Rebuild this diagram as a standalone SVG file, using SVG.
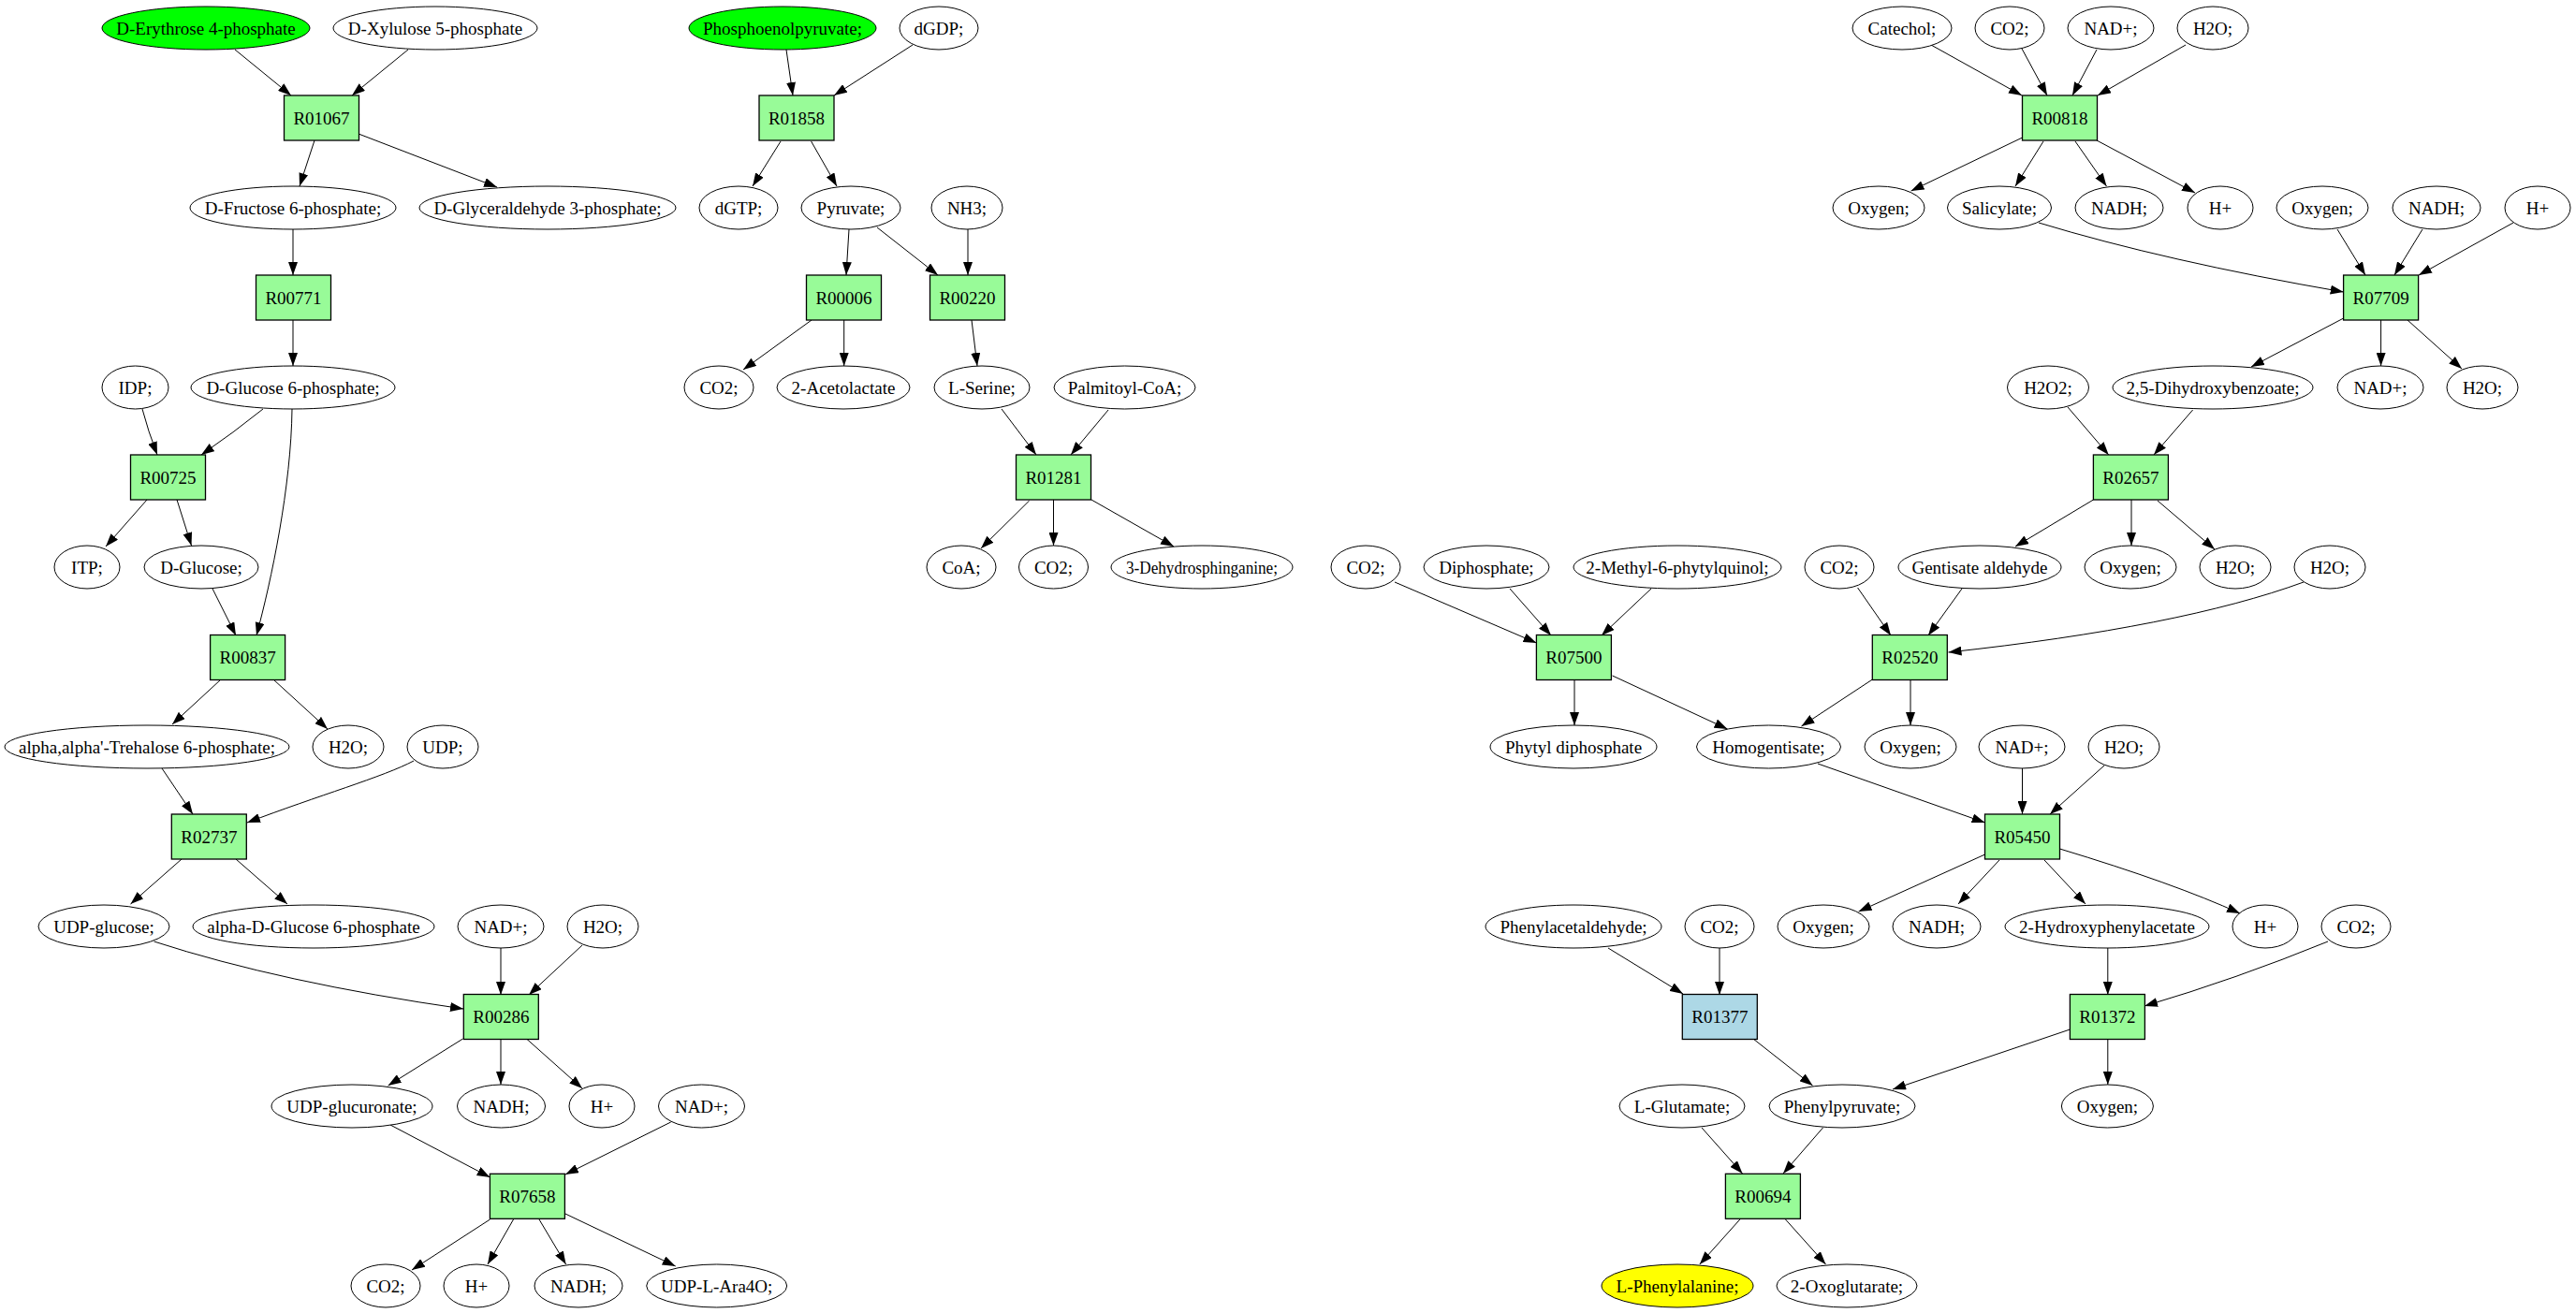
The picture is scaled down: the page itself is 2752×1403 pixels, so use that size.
<svg xmlns="http://www.w3.org/2000/svg" width="2752" height="1403" viewBox="0 0 2752 1403">
<style>
.e{fill:#fff;stroke:#000;stroke-width:1}
.g{fill:#00ff00}
.y{fill:#ffff00}
.r{fill:#98fb98;stroke:#000;stroke-width:1.3}
.b{fill:#add8e6}
text{font-family:"Liberation Serif","Times New Roman",serif;font-size:19px;text-anchor:middle;fill:#000}
#edges path{fill:none;stroke:#000;stroke-width:1;marker-end:url(#a)}
</style>
<defs>
<marker id="a" markerWidth="14" markerHeight="10" refX="14" refY="5" orient="auto" markerUnits="userSpaceOnUse"><path d="M0,0 L14,5 L0,10 z" fill="#000"/></marker>
</defs>
<rect width="2752" height="1403" fill="#fff"/>
<g id="edges">
<path d="M251,53 L311,102"/>
<path d="M436,53 L376,102"/>
<path d="M336,150 L320,199"/>
<path d="M383,143 L531,200"/>
<path d="M313,245 L313,294"/>
<path d="M313,342 L313,391"/>
<path d="M152,437 Q158,460 168,486"/>
<path d="M281,437 Q250,462 215,486"/>
<path d="M312,437 C311,520 290,620 274,679"/>
<path d="M157,534 L113,584"/>
<path d="M189,534 L204.5,583"/>
<path d="M227,629 L252,679"/>
<path d="M236,726 L184,774"/>
<path d="M292,726 L350,779"/>
<path d="M173,821 L206,870"/>
<path d="M442,813 C410,830 340,850 264,879"/>
<path d="M194,918 L139.5,966"/>
<path d="M252,918 L307,966"/>
<path d="M164.5,1006 Q300,1050 495,1078"/>
<path d="M535,1013 L535,1063"/>
<path d="M622,1010 L565,1063"/>
<path d="M494.5,1110 L414.6,1160"/>
<path d="M535,1110 L535,1159"/>
<path d="M562.5,1110 L622,1163"/>
<path d="M417,1202 L523.5,1258"/>
<path d="M716.7,1199 L604,1255"/>
<path d="M523.5,1303 L440,1357"/>
<path d="M548.5,1303 L521,1351"/>
<path d="M576,1303 L604.6,1351"/>
<path d="M604,1297 L721.7,1353"/>
<path d="M840,53 L847,102"/>
<path d="M975,48 L891,102"/>
<path d="M834,151 L804,199"/>
<path d="M866.6,151 L894,199"/>
<path d="M907,245 L904,294"/>
<path d="M937,243 L1002,294"/>
<path d="M1034,245 L1034,294"/>
<path d="M867,342 L794,395"/>
<path d="M901.7,342 L901.7,391"/>
<path d="M1038,342 L1044,391"/>
<path d="M1070,437 L1107,486"/>
<path d="M1184,438 L1144,486"/>
<path d="M1099.6,535 L1048,586"/>
<path d="M1125.5,534 L1125.5,583"/>
<path d="M1166,534 L1254,584"/>
<path d="M2063,48 L2160,102"/>
<path d="M2160,52 L2187,102"/>
<path d="M2240,53 L2214,102"/>
<path d="M2335,48 L2241,102"/>
<path d="M2160.5,147 L2041.6,204"/>
<path d="M2183,151 L2153,199"/>
<path d="M2217,151 L2250.5,199"/>
<path d="M2240,150 L2345,206"/>
<path d="M2178,238 Q2313,279 2503.7,312"/>
<path d="M2497,245 L2527,294"/>
<path d="M2588,245 L2558,294"/>
<path d="M2685,238 L2584,294"/>
<path d="M2503.7,340 L2405,392"/>
<path d="M2543.6,342 L2543.6,391"/>
<path d="M2572,342 L2630,394"/>
<path d="M2209,435 L2252.7,486"/>
<path d="M2342.6,438 L2301,486"/>
<path d="M2236.4,534 L2153,584"/>
<path d="M2277,534 L2277,583"/>
<path d="M2305,535 L2366,587"/>
<path d="M1490,622 L1641.5,687"/>
<path d="M1613,629 L1657,679"/>
<path d="M1764,629 L1711,679"/>
<path d="M1984.6,628 L2020,679"/>
<path d="M2096,629 L2060,679"/>
<path d="M2461,622 Q2330,670 2081.5,697"/>
<path d="M1682,726 L1682,775"/>
<path d="M1722.6,722 L1845.5,779"/>
<path d="M2000.4,726 L1924.5,776"/>
<path d="M2041,726 L2041,775"/>
<path d="M1942,816 L2120.6,879"/>
<path d="M2160.5,821 L2160.5,870"/>
<path d="M2248,818 L2190,870"/>
<path d="M2120.6,913 L1985.6,974"/>
<path d="M2136,919 L2092,966"/>
<path d="M2184,919 L2228,966"/>
<path d="M2200.5,907 Q2323,944 2393,976"/>
<path d="M1718,1013 L1798,1062"/>
<path d="M1837,1013 L1837,1063"/>
<path d="M1873,1110 L1936.5,1160"/>
<path d="M2211.4,1100 L2022,1164"/>
<path d="M2251.8,1013 L2251.8,1063"/>
<path d="M2487,1006 Q2389,1046 2291,1075"/>
<path d="M2251.8,1110 L2251.8,1159"/>
<path d="M1818,1205 L1861.5,1254"/>
<path d="M1947.5,1205 L1905,1254"/>
<path d="M1859.7,1302 L1815.8,1351"/>
<path d="M1906.6,1302 L1950.5,1351"/>
</g>
<g id="R01067"><rect class="r" x="303.5" y="102" width="80" height="48"/><text x="343.5" y="132.5">R01067</text></g>
<g id="R00771"><rect class="r" x="273.5" y="294" width="80" height="48"/><text x="313.5" y="324.5">R00771</text></g>
<g id="R00725"><rect class="r" x="139.5" y="486" width="80" height="48"/><text x="179.5" y="516.5">R00725</text></g>
<g id="R00837"><rect class="r" x="224.6" y="678.5" width="80" height="48"/><text x="264.6" y="709">R00837</text></g>
<g id="R02737"><rect class="r" x="183.3" y="870" width="80" height="48"/><text x="223.3" y="900.5">R02737</text></g>
<g id="R00286"><rect class="r" x="495.3" y="1062.5" width="80" height="48"/><text x="535.3" y="1093">R00286</text></g>
<g id="R07658"><rect class="r" x="523.4" y="1254.3" width="80" height="48"/><text x="563.4" y="1284.8">R07658</text></g>
<g id="R01858"><rect class="r" x="811" y="102" width="80" height="48"/><text x="851" y="132.5">R01858</text></g>
<g id="R00006"><rect class="r" x="861.5" y="294" width="80" height="48"/><text x="901.5" y="324.5">R00006</text></g>
<g id="R00220"><rect class="r" x="993.5" y="294" width="80" height="48"/><text x="1033.5" y="324.5">R00220</text></g>
<g id="R01281"><rect class="r" x="1085.5" y="486" width="80" height="48"/><text x="1125.5" y="516.5">R01281</text></g>
<g id="R00818"><rect class="r" x="2160.5" y="102" width="80" height="48"/><text x="2200.5" y="132.5">R00818</text></g>
<g id="R07709"><rect class="r" x="2503.6" y="294" width="80" height="48"/><text x="2543.6" y="324.5">R07709</text></g>
<g id="R02657"><rect class="r" x="2236.4" y="486" width="80" height="48"/><text x="2276.4" y="516.5">R02657</text></g>
<g id="R07500"><rect class="r" x="1641.4" y="678.5" width="80" height="48"/><text x="1681.4" y="709">R07500</text></g>
<g id="R02520"><rect class="r" x="2000.3" y="678.5" width="80" height="48"/><text x="2040.3" y="709">R02520</text></g>
<g id="R05450"><rect class="r" x="2120.5" y="870" width="80" height="48"/><text x="2160.5" y="900.5">R05450</text></g>
<g id="R01377"><rect class="r b" x="1797.3" y="1062.5" width="80" height="48"/><text x="1837.3" y="1093">R01377</text></g>
<g id="R01372"><rect class="r" x="2211.4" y="1062.5" width="80" height="48"/><text x="2251.4" y="1093">R01372</text></g>
<g id="R00694"><rect class="r" x="1843.4" y="1254.3" width="80" height="48"/><text x="1883.4" y="1284.8">R00694</text></g>
<g id="c_erythrose"><ellipse class="e g" cx="220" cy="30" rx="111" ry="23"/><text x="220" y="36.5">D-Erythrose 4-phosphate</text></g>
<g id="c_xylulose"><ellipse class="e" cx="465" cy="30" rx="109" ry="23"/><text x="465" y="36.5">D-Xylulose 5-phosphate</text></g>
<g id="c_pep"><ellipse class="e g" cx="836" cy="30" rx="100" ry="23"/><text x="836" y="36.5">Phosphoenolpyruvate;</text></g>
<g id="c_dgdp"><ellipse class="e" cx="1003" cy="30" rx="42" ry="23"/><text x="1003" y="36.5">dGDP;</text></g>
<g id="c_catechol"><ellipse class="e" cx="2032" cy="30" rx="53" ry="23"/><text x="2032" y="36.5">Catechol;</text></g>
<g id="c_co2_a"><ellipse class="e" cx="2147" cy="30" rx="37" ry="23"/><text x="2147" y="36.5">CO2;</text></g>
<g id="c_nad_a"><ellipse class="e" cx="2255" cy="30" rx="46" ry="23"/><text x="2255" y="36.5">NAD+;</text></g>
<g id="c_h2o_a"><ellipse class="e" cx="2364" cy="30" rx="38" ry="23"/><text x="2364" y="36.5">H2O;</text></g>
<g id="c_fructose"><ellipse class="e" cx="313" cy="222" rx="110" ry="23"/><text x="313" y="228.5">D-Fructose 6-phosphate;</text></g>
<g id="c_glyceraldehyde"><ellipse class="e" cx="585" cy="222" rx="137" ry="23"/><text x="585" y="228.5">D-Glyceraldehyde 3-phosphate;</text></g>
<g id="c_dgtp"><ellipse class="e" cx="789" cy="222" rx="42" ry="23"/><text x="789" y="228.5">dGTP;</text></g>
<g id="c_pyruvate"><ellipse class="e" cx="909" cy="222" rx="53" ry="23"/><text x="909" y="228.5">Pyruvate;</text></g>
<g id="c_nh3"><ellipse class="e" cx="1033" cy="222" rx="38" ry="23"/><text x="1033" y="228.5">NH3;</text></g>
<g id="c_oxygen_a"><ellipse class="e" cx="2007" cy="222" rx="49" ry="23"/><text x="2007" y="228.5">Oxygen;</text></g>
<g id="c_salicylate"><ellipse class="e" cx="2136" cy="222" rx="55.5" ry="23"/><text x="2136" y="228.5">Salicylate;</text></g>
<g id="c_nadh_a"><ellipse class="e" cx="2264" cy="222" rx="47" ry="23"/><text x="2264" y="228.5">NADH;</text></g>
<g id="c_h_a"><ellipse class="e" cx="2372" cy="222" rx="35" ry="23"/><text x="2372" y="228.5">H+</text></g>
<g id="c_oxygen_b"><ellipse class="e" cx="2481" cy="222" rx="49" ry="23"/><text x="2481" y="228.5">Oxygen;</text></g>
<g id="c_nadh_b"><ellipse class="e" cx="2603" cy="222" rx="47" ry="23"/><text x="2603" y="228.5">NADH;</text></g>
<g id="c_h_b"><ellipse class="e" cx="2711" cy="222" rx="35" ry="23"/><text x="2711" y="228.5">H+</text></g>
<g id="c_idp"><ellipse class="e" cx="144.5" cy="414" rx="35.5" ry="23"/><text x="144.5" y="420.5">IDP;</text></g>
<g id="c_glc6p"><ellipse class="e" cx="313" cy="414" rx="109" ry="23"/><text x="313" y="420.5">D-Glucose 6-phosphate;</text></g>
<g id="c_co2_b"><ellipse class="e" cx="768" cy="414" rx="37" ry="23"/><text x="768" y="420.5">CO2;</text></g>
<g id="c_acetolactate"><ellipse class="e" cx="901" cy="414" rx="71" ry="23"/><text x="901" y="420.5">2-Acetolactate</text></g>
<g id="c_serine"><ellipse class="e" cx="1049" cy="414" rx="51" ry="23"/><text x="1049" y="420.5">L-Serine;</text></g>
<g id="c_palmitoyl"><ellipse class="e" cx="1201.5" cy="414" rx="75.5" ry="23"/><text x="1201.5" y="420.5">Palmitoyl-CoA;</text></g>
<g id="c_h2o2"><ellipse class="e" cx="2188" cy="414" rx="43.5" ry="23"/><text x="2188" y="420.5">H2O2;</text></g>
<g id="c_dhb"><ellipse class="e" cx="2364" cy="414" rx="107" ry="23"/><text x="2364" y="420.5">2,5-Dihydroxybenzoate;</text></g>
<g id="c_nad_b"><ellipse class="e" cx="2543" cy="414" rx="46" ry="23"/><text x="2543" y="420.5">NAD+;</text></g>
<g id="c_h2o_b"><ellipse class="e" cx="2652" cy="414" rx="38" ry="23"/><text x="2652" y="420.5">H2O;</text></g>
<g id="c_itp"><ellipse class="e" cx="93" cy="606" rx="35" ry="23"/><text x="93" y="612.5">ITP;</text></g>
<g id="c_glucose"><ellipse class="e" cx="215" cy="606" rx="61" ry="23"/><text x="215" y="612.5">D-Glucose;</text></g>
<g id="c_coa"><ellipse class="e" cx="1027" cy="606" rx="37" ry="23"/><text x="1027" y="612.5">CoA;</text></g>
<g id="c_co2_c"><ellipse class="e" cx="1125.5" cy="606" rx="37" ry="23"/><text x="1125.5" y="612.5">CO2;</text></g>
<g id="c_dhs"><ellipse class="e" cx="1284" cy="606" rx="97" ry="23"/><text x="1284" y="612.5" textLength="162" lengthAdjust="spacingAndGlyphs">3-Dehydrosphinganine;</text></g>
<g id="c_co2_d"><ellipse class="e" cx="1459" cy="606" rx="37" ry="23"/><text x="1459" y="612.5">CO2;</text></g>
<g id="c_diphosphate"><ellipse class="e" cx="1588" cy="606" rx="67" ry="23"/><text x="1588" y="612.5">Diphosphate;</text></g>
<g id="c_methylphytyl"><ellipse class="e" cx="1792" cy="606" rx="111" ry="23"/><text x="1792" y="612.5">2-Methyl-6-phytylquinol;</text></g>
<g id="c_co2_e"><ellipse class="e" cx="1965" cy="606" rx="37" ry="23"/><text x="1965" y="612.5">CO2;</text></g>
<g id="c_gentisald"><ellipse class="e" cx="2115" cy="606" rx="87" ry="23"/><text x="2115" y="612.5">Gentisate aldehyde</text></g>
<g id="c_oxygen_c"><ellipse class="e" cx="2276" cy="606" rx="49" ry="23"/><text x="2276" y="612.5">Oxygen;</text></g>
<g id="c_h2o_c"><ellipse class="e" cx="2388" cy="606" rx="38" ry="23"/><text x="2388" y="612.5">H2O;</text></g>
<g id="c_h2o_d"><ellipse class="e" cx="2489" cy="606" rx="38" ry="23"/><text x="2489" y="612.5">H2O;</text></g>
<g id="c_trehalose"><ellipse class="e" cx="157" cy="798" rx="152" ry="23"/><text x="157" y="804.5">alpha,alpha'-Trehalose 6-phosphate;</text></g>
<g id="c_h2o_e"><ellipse class="e" cx="372" cy="798" rx="38" ry="23"/><text x="372" y="804.5">H2O;</text></g>
<g id="c_udp"><ellipse class="e" cx="473" cy="798" rx="38" ry="23"/><text x="473" y="804.5">UDP;</text></g>
<g id="c_phytyl"><ellipse class="e" cx="1681" cy="798" rx="89" ry="23"/><text x="1681" y="804.5">Phytyl diphosphate</text></g>
<g id="c_homogentisate"><ellipse class="e" cx="1889.5" cy="798" rx="77" ry="23"/><text x="1889.5" y="804.5">Homogentisate;</text></g>
<g id="c_oxygen_d"><ellipse class="e" cx="2041" cy="798" rx="49" ry="23"/><text x="2041" y="804.5">Oxygen;</text></g>
<g id="c_nad_c"><ellipse class="e" cx="2160" cy="798" rx="46" ry="23"/><text x="2160" y="804.5">NAD+;</text></g>
<g id="c_h2o_f"><ellipse class="e" cx="2269" cy="798" rx="38" ry="23"/><text x="2269" y="804.5">H2O;</text></g>
<g id="c_udpglucose"><ellipse class="e" cx="111" cy="990" rx="70" ry="23"/><text x="111" y="996.5">UDP-glucose;</text></g>
<g id="c_adglc6p"><ellipse class="e" cx="335" cy="990" rx="129" ry="23"/><text x="335" y="996.5">alpha-D-Glucose 6-phosphate</text></g>
<g id="c_nad_d"><ellipse class="e" cx="535" cy="990" rx="46" ry="23"/><text x="535" y="996.5">NAD+;</text></g>
<g id="c_h2o_g"><ellipse class="e" cx="644" cy="990" rx="38" ry="23"/><text x="644" y="996.5">H2O;</text></g>
<g id="c_phenylacetaldehyde"><ellipse class="e" cx="1681" cy="990" rx="94" ry="23"/><text x="1681" y="996.5">Phenylacetaldehyde;</text></g>
<g id="c_co2_f"><ellipse class="e" cx="1837" cy="990" rx="37" ry="23"/><text x="1837" y="996.5">CO2;</text></g>
<g id="c_oxygen_e"><ellipse class="e" cx="1948" cy="990" rx="49" ry="23"/><text x="1948" y="996.5">Oxygen;</text></g>
<g id="c_nadh_c"><ellipse class="e" cx="2069" cy="990" rx="47" ry="23"/><text x="2069" y="996.5">NADH;</text></g>
<g id="c_hpa"><ellipse class="e" cx="2251" cy="990" rx="109" ry="23"/><text x="2251" y="996.5">2-Hydroxyphenylacetate</text></g>
<g id="c_h_c"><ellipse class="e" cx="2420" cy="990" rx="35" ry="23"/><text x="2420" y="996.5">H+</text></g>
<g id="c_co2_g"><ellipse class="e" cx="2517" cy="990" rx="37" ry="23"/><text x="2517" y="996.5">CO2;</text></g>
<g id="c_udpglucuronate"><ellipse class="e" cx="376" cy="1182" rx="86" ry="23"/><text x="376" y="1188.5">UDP-glucuronate;</text></g>
<g id="c_nadh_d"><ellipse class="e" cx="535.5" cy="1182" rx="47" ry="23"/><text x="535.5" y="1188.5">NADH;</text></g>
<g id="c_h_d"><ellipse class="e" cx="643" cy="1182" rx="35" ry="23"/><text x="643" y="1188.5">H+</text></g>
<g id="c_nad_e"><ellipse class="e" cx="749.5" cy="1182" rx="46" ry="23"/><text x="749.5" y="1188.5">NAD+;</text></g>
<g id="c_glutamate"><ellipse class="e" cx="1797" cy="1182" rx="67" ry="23"/><text x="1797" y="1188.5">L-Glutamate;</text></g>
<g id="c_phenylpyruvate"><ellipse class="e" cx="1968" cy="1182" rx="78" ry="23"/><text x="1968" y="1188.5">Phenylpyruvate;</text></g>
<g id="c_oxygen_f"><ellipse class="e" cx="2251.4" cy="1182" rx="49" ry="23"/><text x="2251.4" y="1188.5">Oxygen;</text></g>
<g id="c_co2_h"><ellipse class="e" cx="412" cy="1374" rx="37" ry="23"/><text x="412" y="1380.5">CO2;</text></g>
<g id="c_h_e"><ellipse class="e" cx="509" cy="1374" rx="35" ry="23"/><text x="509" y="1380.5">H+</text></g>
<g id="c_nadh_e"><ellipse class="e" cx="618" cy="1374" rx="47" ry="23"/><text x="618" y="1380.5">NADH;</text></g>
<g id="c_udpara"><ellipse class="e" cx="765.7" cy="1374" rx="75" ry="23"/><text x="765.7" y="1380.5">UDP-L-Ara4O;</text></g>
<g id="c_phe"><ellipse class="e y" cx="1792" cy="1374" rx="81" ry="23"/><text x="1792" y="1380.5">L-Phenylalanine;</text></g>
<g id="c_oxoglutarate"><ellipse class="e" cx="1973" cy="1374" rx="75" ry="23"/><text x="1973" y="1380.5">2-Oxoglutarate;</text></g>
</svg>
